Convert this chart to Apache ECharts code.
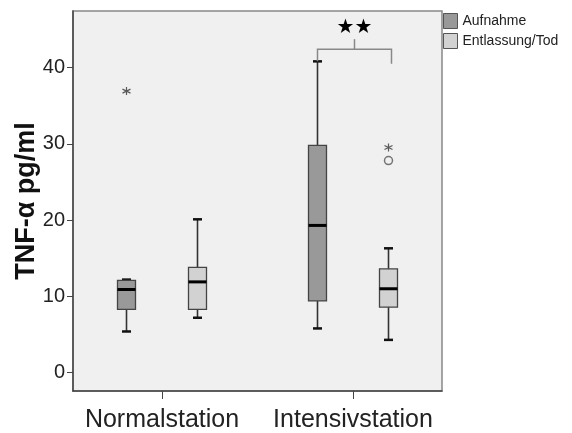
<!DOCTYPE html>
<html>
<head>
<meta charset="utf-8">
<script src="https://cdn.jsdelivr.net/npm/echarts@6/dist/echarts.min.js"></script>
<style>
html,body{margin:0;padding:0;background:#fff;}
#c{width:572px;height:433px;}
</style>
</head>
<body>
<div id="c"></div>
<script>
// ---- data ----
const categories = ['Normalstation', 'Intensivstation'];
const seriesNames = ['Aufnahme', 'Entlassung/Tod'];
// [min, Q1, median, Q3, max]
const aufnahme = [
  [5.4, 8.3, 10.9, 12.1, 12.2],
  [5.8, 9.4, 19.3, 29.8, 40.8]
];
const entlassung = [
  [7.2, 8.3, 11.9, 13.8, 20.1],
  [4.3, 8.6, 11.0, 13.6, 16.3]
];
// extreme values (*) : [categoryIndex, value]
const aufnahmeExtremes = [[0, 36.9]];
const entlassungExtremes = [[1, 29.5]];
// outliers (o)
const entlassungOutliers = [[1, 27.8]];
// significance bracket: [categoryIndex, level, leftEnd, rightEnd]
const sigBracket = [[1, 42.4, 40.8, 40.5]];
const sigLabel = '★★';
const yTicks = [0, 10, 20, 30, 40];

// ---- styles ----
const FONT = '"Liberation Sans", Arial, sans-serif';
const OFFSET = 35.5;      // px shift of the two boxes from category centre
const BOX_W = 18;
const CAP_W = 9;
const fills = ['#999999', '#d2d2d2'];

function boxRenderer(offset, fill) {
  return function (params, api) {
    const ci = api.value(0);
    const cx = api.coord([ci, 0])[0] + offset;
    const y = [1, 2, 3, 4, 5].map(i => api.coord([ci, api.value(i)])[1]);
    const ln = (x1, y1, x2, y2, w, c) => ({
      type: 'line', shape: {x1, y1, x2, y2},
      style: {stroke: c, lineWidth: w}
    });
    return {
      type: 'group',
      children: [
        ln(cx, y[0], cx, y[1], 1.6, '#333'),
        ln(cx, y[3], cx, y[4], 1.6, '#333'),
        ln(cx - CAP_W / 2, y[0], cx + CAP_W / 2, y[0], 2.5, '#111'),
        ln(cx - CAP_W / 2, y[4], cx + CAP_W / 2, y[4], 2.5, '#111'),
        {
          type: 'rect',
          shape: {x: cx - BOX_W / 2, y: y[3], width: BOX_W, height: y[1] - y[3]},
          style: {fill: fill, stroke: '#444', lineWidth: 1.3}
        },
        ln(cx - BOX_W / 2, y[2], cx + BOX_W / 2, y[2], 3, '#000')
      ]
    };
  };
}

function bracketRenderer(params, api) {
  const ci = api.value(0);
  const cx = api.coord([ci, 0])[0];
  const yl = api.coord([ci, api.value(1)])[1];
  const y1 = api.coord([ci, api.value(2)])[1];
  const y2 = api.coord([ci, api.value(3)])[1];
  const xl = cx - OFFSET;
  const xr = cx + OFFSET + 3;
  const xm = (xl + xr) / 2;
  return {
    type: 'group',
    children: [
      {type: 'polyline', shape: {points: [[xl, y1], [xl, yl], [xr, yl], [xr, y2]]},
       style: {stroke: '#888', lineWidth: 1.5, fill: null}},
      {type: 'line', shape: {x1: xm, y1: yl, x2: xm, y2: yl - 10},
       style: {stroke: '#888', lineWidth: 1.5}},
      {type: 'text', style: {text: sigLabel, x: xm, y: yl - 21, align: 'center', verticalAlign: 'middle',
        font: '20px "DejaVu Sans", sans-serif', fill: '#000'}}
    ]
  };
}

const asterisk = 'path://M5,0V10M0.67,2.5L9.33,7.5M0.67,7.5L9.33,2.5';

const chart = echarts.init(document.getElementById('c'), null, {renderer: 'canvas'});
chart.setOption({
  animation: false,
  backgroundColor: '#ffffff',
  textStyle: {fontFamily: FONT},
  grid: {
    left: 73, right: 130, top: 11, bottom: 42,
    show: true, backgroundColor: '#f0f0f0', borderColor: '#888', borderWidth: 1.5,
    containLabel: false, outerBoundsMode: 'none'
  },
  legend: {
    orient: 'vertical', left: 443, top: 13, padding: 0,
    itemWidth: 14, itemHeight: 15, itemGap: 4,
    textStyle: {fontSize: 14, color: '#222', fontFamily: FONT},
    data: [
      {name: seriesNames[0], icon: 'rect', itemStyle: {color: fills[0], borderColor: '#555', borderWidth: 1}},
      {name: seriesNames[1], icon: 'rect', itemStyle: {color: fills[1], borderColor: '#555', borderWidth: 1}}
    ],
    selectedMode: false
  },
  xAxis: {
    type: 'value', min: -89 / 191, max: 1 + 89 / 191,
    splitLine: {show: false},
    axisLine: {show: true, onZero: false, lineStyle: {color: '#444', width: 1.5}},
    axisTick: {show: true, inside: false, customValues: [0, 1], length: 8, lineStyle: {color: '#444', width: 1}},
    axisLabel: {
      customValues: [0, 1], margin: 17, fontSize: 25, color: '#222', fontFamily: FONT,
      formatter: v => categories[Math.round(v)] || ''
    }
  },
  yAxis: {
    type: 'value', min: -2.4, max: 47.4,
    name: 'TNF-α pg/ml', nameLocation: 'middle', nameGap: 33, nameMoveOverlap: false,
    nameTextStyle: {fontSize: 27, fontWeight: 'bold', color: '#111', fontFamily: FONT},
    splitLine: {show: false},
    axisLine: {show: true, onZero: false, lineStyle: {color: '#444', width: 1.5}},
    axisTick: {show: true, inside: false, customValues: yTicks, length: 6, lineStyle: {color: '#444', width: 1}},
    axisLabel: {customValues: yTicks, margin: 8, fontSize: 20, color: '#222', fontFamily: FONT}
  },
  series: [
    {
      name: seriesNames[0], type: 'custom', renderItem: boxRenderer(-OFFSET, fills[0]),
      encode: {x: 0, y: [1, 2, 3, 4, 5]}, itemStyle: {color: fills[0]},
      data: aufnahme.map((d, i) => [i].concat(d)), z: 3
    },
    {
      name: seriesNames[1], type: 'custom', renderItem: boxRenderer(OFFSET, fills[1]),
      encode: {x: 0, y: [1, 2, 3, 4, 5]}, itemStyle: {color: fills[1]},
      data: entlassung.map((d, i) => [i].concat(d)), z: 3
    },
    {
      name: 'aufnahmeExt', type: 'scatter', data: aufnahmeExtremes,
      symbol: asterisk, symbolSize: 8, symbolOffset: [-OFFSET, 0],
      itemStyle: {color: 'transparent', borderColor: '#333', borderWidth: 1.2}, z: 4
    },
    {
      name: 'entlassungExt', type: 'scatter', data: entlassungExtremes,
      symbol: asterisk, symbolSize: 8, symbolOffset: [OFFSET, 0],
      itemStyle: {color: 'transparent', borderColor: '#333', borderWidth: 1.2}, z: 4
    },
    {
      name: 'entlassungOut', type: 'scatter', data: entlassungOutliers,
      symbol: 'circle', symbolSize: 8, symbolOffset: [OFFSET, 0],
      itemStyle: {color: 'transparent', borderColor: '#555', borderWidth: 1.5}, z: 4
    },
    {
      name: 'sig', type: 'custom', renderItem: bracketRenderer,
      encode: {x: 0, y: [1, 2, 3]}, data: sigBracket, z: 5, silent: true
    }
  ]
});
</script>
</body>
</html>
